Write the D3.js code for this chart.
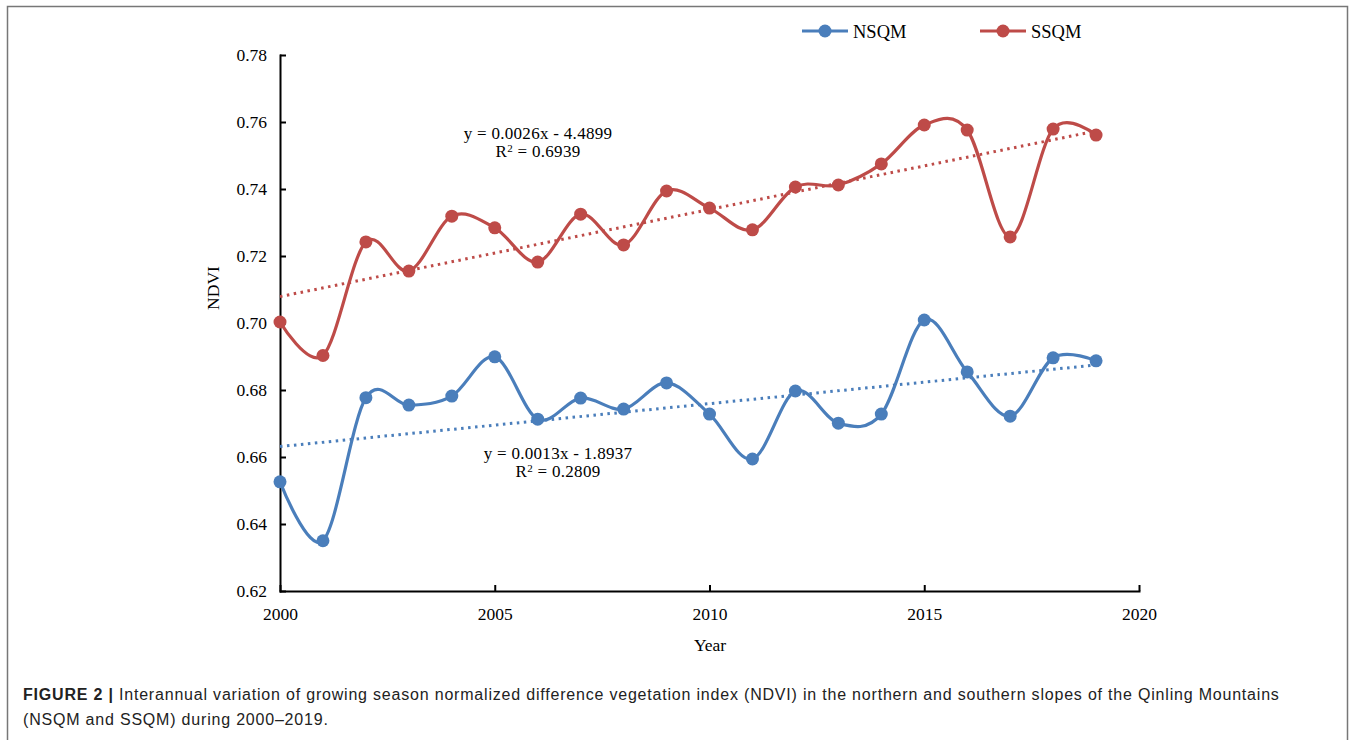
<!DOCTYPE html>
<html>
<head>
<meta charset="utf-8">
<script src="https://cdn.jsdelivr.net/npm/d3@7"></script>
<style>
  body { margin: 0; background: #fff; }
  svg { display: block; }
  .tick text { font-family: "Liberation Serif", "Times New Roman", serif; font-size: 17.5px; fill: #000; }
  .axis path, .axis line { stroke: #000; stroke-width: 2px; }
</style>
</head>
<body>
<svg id="ch" width="1356" height="740"></svg>
<script>
// years and NDVI values
var years = [2000,2001,2002,2003,2004,2005,2006,2007,2008,2009,2010,2011,2012,2013,2014,2015,2016,2017,2018,2019];
var nsqm = [0.6526,0.6350,0.6777,0.6755,0.6782,0.6899,0.6713,0.6776,0.6743,0.6821,0.6728,0.6594,0.6797,0.6701,0.6728,0.7009,0.6854,0.6722,0.6896,0.6887];
var ssqm = [0.7003,0.6903,0.7242,0.7155,0.7319,0.7284,0.7182,0.7325,0.7233,0.7394,0.7343,0.7278,0.7406,0.7412,0.7475,0.7591,0.7576,0.7257,0.7579,0.7561];
var yTicks = [0.62,0.64,0.66,0.68,0.70,0.72,0.74,0.76,0.78];
var xTicks = [2000,2005,2010,2015,2020];
var eqNsqm = ["y = 0.0013x - 1.8937", "0.2809"];
var eqSsqm = ["y = 0.0026x - 4.4899", "0.6939"];

var blue = "#4A7EBB", red = "#BE4B48";
var svg = d3.select("#ch");

// figure frame
svg.append("rect").attr("x",7.5).attr("y",6.5).attr("width",1340).attr("height",800)
  .attr("fill","none").attr("stroke","#777").attr("stroke-width",1.5);

var x = d3.scaleLinear().domain([2000,2020]).range([280,1139]);
var y = d3.scaleLinear().domain([0.62,0.78]).range([591,55]);

svg.append("g").attr("class","axis").attr("transform","translate(280,0)")
  .call(d3.axisLeft(y).tickValues(yTicks).tickFormat(d3.format(".2f")).tickSizeInner(-6).tickSizeOuter(0).tickPadding(13));
svg.append("g").attr("class","axis").attr("transform","translate(0,591)")
  .call(d3.axisBottom(x).tickValues(xTicks).tickFormat(d3.format("d")).tickSizeInner(-6).tickSizeOuter(0).tickPadding(17));
svg.selectAll(".axis .domain").attr("stroke-linecap","square");

// axis titles
svg.append("text").attr("x",710).attr("y",651).attr("text-anchor","middle")
  .style("font-family","Liberation Serif, serif").style("font-size","17.5px").text("Year");
svg.append("text").attr("transform","translate(219,288) rotate(-90)").attr("text-anchor","middle")
  .style("font-family","Liberation Serif, serif").style("font-size","17.5px").text("NDVI");

// linear trend (least squares, as the spreadsheet trendline)
function fit(vals) {
  var mx = d3.mean(years), my = d3.mean(vals);
  var sxy = d3.sum(years, function (d, i) { return (d - mx) * (vals[i] - my); });
  var sxx = d3.sum(years, function (d) { return (d - mx) * (d - mx); });
  var b = sxy / sxx, a = my - b * mx;
  return [years[0], years[years.length-1]].map(function (t) { return {t: t, v: a + b * t}; });
}

var line = d3.line()
  .x(function (d) { return x(d.t); })
  .y(function (d) { return y(d.v); })
  .curve(d3.curveCatmullRom.alpha(0));
var straight = d3.line()
  .x(function (d) { return x(d.t); })
  .y(function (d) { return y(d.v); });

var seriesData = [
  {name: "NSQM", color: blue, vals: nsqm},
  {name: "SSQM", color: red, vals: ssqm}
];

seriesData.forEach(function (s) {
  var pts = years.map(function (t, i) { return {t: t, v: s.vals[i]}; });
  svg.append("path").attr("d", straight(fit(s.vals)))
    .attr("fill","none").attr("stroke",s.color).attr("stroke-width",3)
    .attr("stroke-dasharray","2.5 4.5");
  svg.append("path").attr("d", line(pts))
    .attr("fill","none").attr("stroke",s.color).attr("stroke-width",3.2);
  svg.selectAll(null).data(pts).enter().append("circle")
    .attr("cx", function (d) { return x(d.t); })
    .attr("cy", function (d) { return y(d.v); })
    .attr("r", 6.5).attr("fill", s.color);
});

// equations
function eq(cx, by, lines) {
  var g = svg.append("g").style("font-family","Liberation Serif, serif").style("font-size","17px")
    .style("letter-spacing","0.3px");
  g.append("text").attr("x",cx).attr("y",by).attr("text-anchor","middle").text(lines[0]);
  var t = g.append("text").attr("x",cx).attr("y",by+18).attr("text-anchor","middle");
  t.append("tspan").text("R");
  t.append("tspan").attr("dy",-5).style("font-size","11px").text("2");
  t.append("tspan").attr("dy",5).text(" = " + lines[1]);
}
eq(538, 139, eqSsqm);
eq(558, 459, eqNsqm);

// legend
var leg = svg.selectAll(".leg").data(seriesData).enter().append("g").attr("class","leg")
  .attr("transform", function (d, i) { return "translate(" + (802 + i*178) + ",31)"; });
leg.append("line").attr("x1",0).attr("x2",46).attr("stroke",function (d) { return d.color; }).attr("stroke-width",3);
leg.append("circle").attr("cx",23).attr("r",6.5).attr("fill",function (d) { return d.color; });
leg.append("text").attr("x",51).attr("y",6.5).style("font-family","Liberation Serif, serif").style("font-size","18.5px")
  .text(function (d) { return d.name; });

// caption
var cap = svg.append("g").style("font-family","Liberation Sans, Arial, sans-serif").style("font-size","16px")
  .style("letter-spacing","0.8px").attr("fill","#222");
var c1 = cap.append("text").attr("x",23).attr("y",700);
c1.append("tspan").style("font-weight","bold").text("FIGURE 2 | ");
c1.append("tspan").text("Interannual variation of growing season normalized difference vegetation index (NDVI) in the northern and southern slopes of the Qinling Mountains");
cap.append("text").attr("x",23).attr("y",725).text("(NSQM and SSQM) during 2000\u20132019.");
</script>
</body>
</html>
